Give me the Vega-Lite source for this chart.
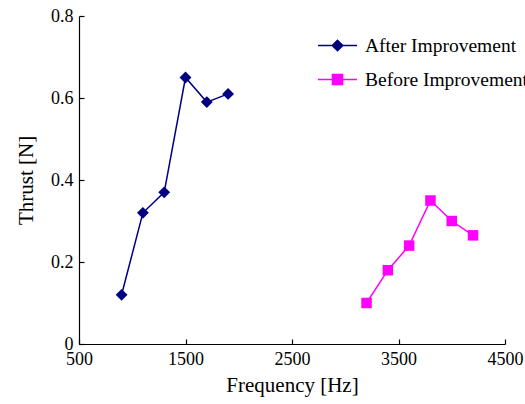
{
  "$schema": "https://vega.github.io/schema/vega-lite/v6.json",
  "autosize": "none",
  "width": 426,
  "height": 328,
  "padding": {"left": 79, "top": 16, "right": 20, "bottom": 60},
  "background": "white",
  "config": {
    "view": {"stroke": null},
    "font": "Times New Roman",
    "axis": {
      "grid": false,
      "domainColor": "black",
      "domainWidth": 1.2,
      "tickColor": "black",
      "tickWidth": 1.2,
      "tickSize": -5,
      "labelFont": "Times New Roman",
      "labelFontSize": 18,
      "labelColor": "black",
      "labelFlush": false,
      "labelOverlap": false,
      "titleFont": "Times New Roman",
      "titleFontSize": 21,
      "titleFontWeight": "normal",
      "titleColor": "black"
    }
  },
  "data": {
    "values": [
      {"series": "After Improvement", "freq": 900, "thrust": 0.12},
      {"series": "After Improvement", "freq": 1100, "thrust": 0.32},
      {"series": "After Improvement", "freq": 1300, "thrust": 0.37},
      {"series": "After Improvement", "freq": 1500, "thrust": 0.65},
      {"series": "After Improvement", "freq": 1700, "thrust": 0.59},
      {"series": "After Improvement", "freq": 1900, "thrust": 0.61},
      {"series": "Before Improvement", "freq": 3200, "thrust": 0.10},
      {"series": "Before Improvement", "freq": 3400, "thrust": 0.18},
      {"series": "Before Improvement", "freq": 3600, "thrust": 0.24},
      {"series": "Before Improvement", "freq": 3800, "thrust": 0.35},
      {"series": "Before Improvement", "freq": 4000, "thrust": 0.30},
      {"series": "Before Improvement", "freq": 4200, "thrust": 0.265}
    ]
  },
  "encoding": {
    "x": {
      "field": "freq", "type": "quantitative",
      "scale": {"domain": [500, 4500], "nice": false, "zero": false},
      "axis": {"values": [500, 1500, 2500, 3500, 4500], "title": "Frequency [Hz]", "labelPadding": 11, "titlePadding": 6, "format": "d"}
    },
    "y": {
      "field": "thrust", "type": "quantitative",
      "scale": {"domain": [0, 0.8], "nice": false},
      "axis": {"values": [0, 0.2, 0.4, 0.6, 0.8], "title": "Thrust [N]", "labelPadding": 11, "titlePadding": 14, "labelExpr": "datum.value === 0 ? '0' : format(datum.value, '.1f')"}
    },
    "color": {
      "field": "series", "type": "nominal",
      "scale": {"domain": ["After Improvement", "Before Improvement"], "range": ["#000080", "#ff00ff"]}
    }
  },
  "layer": [
    {
      "mark": {"type": "line", "strokeWidth": 1.5},
      "encoding": {
        "color": {
          "field": "series", "type": "nominal",
          "scale": {"domain": ["After Improvement", "Before Improvement"], "range": ["#000080", "#ff00ff"]},
          "legend": {
            "title": null,
            "orient": "none",
            "legendX": 238,
            "legendY": 9,
            "labelFont": "Times New Roman",
            "labelFontSize": 19.5,
            "labelColor": "black",
            "labelLimit": 400,
            "labelOffset": 7,
            "rowPadding": 4,
            "symbolSize": 1521,
            "symbolStrokeWidth": 1.5,
            "encode": {
              "symbols": {
                "update": {
                  "shape": {"signal": "datum.value === 'After Improvement' ? 'M-1,0L1,0M-0.27,0L0,-0.27L0.27,0L0,0.27Z' : 'M-1,0L1,0M-0.26,-0.26L0.26,-0.26L0.26,0.26L-0.26,0.26Z'"},
                  "fill": {"signal": "datum.value === 'After Improvement' ? '#000080' : '#ff00ff'"},
                  "stroke": {"signal": "datum.value === 'After Improvement' ? '#000080' : '#ff00ff'"},
                  "fillOpacity": {"value": 1},
                  "strokeOpacity": {"value": 1}
                }
              }
            }
          }
        }
      }
    },
    {
      "transform": [{"filter": "datum.series === 'After Improvement'"}],
      "mark": {"type": "point", "filled": true, "opacity": 1, "shape": "diamond", "size": 140},
      "encoding": {
        "color": {
          "field": "series", "type": "nominal",
          "scale": {"domain": ["After Improvement", "Before Improvement"], "range": ["#000080", "#ff00ff"]},
          "legend": null
        }
      }
    },
    {
      "transform": [{"filter": "datum.series === 'Before Improvement'"}],
      "mark": {"type": "point", "filled": true, "opacity": 1, "shape": "square", "size": 110},
      "encoding": {
        "color": {
          "field": "series", "type": "nominal",
          "scale": {"domain": ["After Improvement", "Before Improvement"], "range": ["#000080", "#ff00ff"]},
          "legend": null
        }
      }
    }
  ]
}
